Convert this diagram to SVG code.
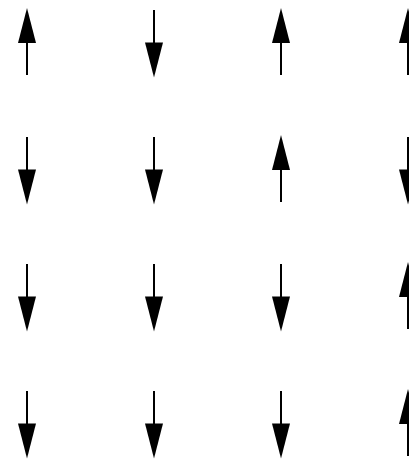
<svg xmlns="http://www.w3.org/2000/svg" xmlns:xlink="http://www.w3.org/1999/xlink" width="409" height="459" viewBox="0 0 409 459">
<defs>
<style>
.shaft{stroke:#000;stroke-width:2;fill:none}
.head{fill:#000;stroke:none}
</style>
<g id="up">
<line class="shaft" x1="0" y1="75" x2="0" y2="40"/>
<polygon class="head" points="0,8 -9,43 9,43"/>
</g>
<g id="down">
<line class="shaft" x1="0" y1="10" x2="0" y2="45"/>
<polygon class="head" points="0,77.5 -9,42.5 9,42.5"/>
</g>
</defs>
<rect width="409" height="459" fill="#fff"/>
<g id="connectors">
<use xlink:href="#up" x="27" y="0"/>
<use xlink:href="#down" x="154" y="0"/>
<use xlink:href="#up" x="281" y="0"/>
<use xlink:href="#up" x="408" y="0"/>
<use xlink:href="#down" x="27" y="127"/>
<use xlink:href="#down" x="154" y="127"/>
<use xlink:href="#up" x="281" y="127"/>
<use xlink:href="#down" x="408" y="127"/>
<use xlink:href="#down" x="27" y="254"/>
<use xlink:href="#down" x="154" y="254"/>
<use xlink:href="#down" x="281" y="254"/>
<use xlink:href="#up" x="408" y="254"/>
<use xlink:href="#down" x="27" y="381"/>
<use xlink:href="#down" x="154" y="381"/>
<use xlink:href="#down" x="281" y="381"/>
<use xlink:href="#up" x="408" y="381"/>
</g>
</svg>
